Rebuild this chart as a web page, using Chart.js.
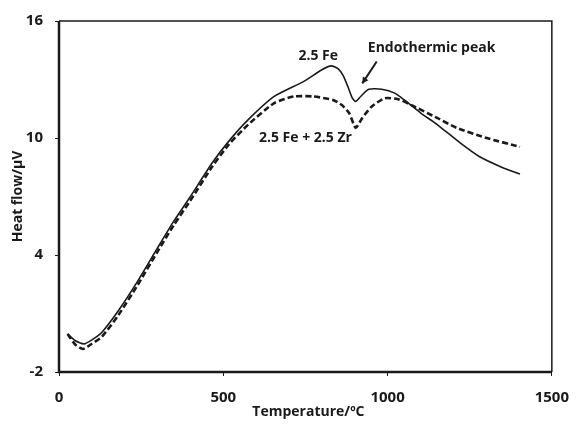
<!DOCTYPE html>
<html lang="en">
<head>
<meta charset="UTF-8">
<title>Heat flow</title>
<script src="https://cdn.jsdelivr.net/npm/chart.js"></script>
<style>
    body { margin: 0; background: #fff; }
    #chart { display: block; }
</style>
</head>
<body>
<canvas id="chart" width="582" height="425"></canvas>
<script>
// 2.5 Fe (solid)
const feTemp = [26, 50, 76, 100, 130, 180, 239, 299, 348, 398, 467, 517, 576, 655, 744, 800, 829, 850, 865, 880, 893, 903, 918, 943, 982, 1022, 1051, 1101, 1151, 1220, 1279, 1349, 1403];
const feFlow = [-0.05, -0.4, -0.56, -0.35, 0.03, 1.13, 2.65, 4.34, 5.7, 6.95, 8.74, 9.84, 10.94, 12.13, 12.89, 13.5, 13.7, 13.55, 13.2, 12.6, 12.04, 11.87, 12.13, 12.5, 12.5, 12.3, 11.95, 11.28, 10.69, 9.76, 9.05, 8.49, 8.15];

// 2.5 Fe + 2.5 Zr (dashed)
const zrTemp = [26, 50, 73, 100, 130, 180, 239, 299, 348, 398, 467, 517, 576, 655, 715, 774, 834, 860, 883, 903, 923, 952, 992, 1032, 1071, 1151, 1210, 1299, 1403];
const zrFlow = [-0.05, -0.6, -0.82, -0.55, -0.2, 0.9, 2.45, 4.15, 5.5, 6.75, 8.55, 9.67, 10.69, 11.79, 12.13, 12.13, 11.95, 11.7, 11.28, 10.52, 11.03, 11.62, 12.04, 11.99, 11.7, 11.03, 10.52, 10.01, 9.55];

const xTicks = [0, 500, 1000, 1500];
const yTicks = [-2, 4, 10, 16];

const xTitle = 'Temperature/\u00BAC';
const yTitle = 'Heat flow/\u00B5V';

// annotations in data units
const labels = [
    { text: '2.5 Fe', x: 789, y: 14.22 },
    { text: 'Endothermic peak', x: 1134, y: 14.63 },
    { text: '2.5 Fe + 2.5 Zr', x: 750, y: 10.0 }
];
const arrowFrom = { x: 967, y: 13.92 };
const arrowTo = { x: 923, y: 12.8 };

const INK = '#1a1a1a';
const FONT = '"Open Sans", sans-serif';

function toPoints(xs, ys) {
    return xs.map((x, i) => ({ x: x, y: ys[i] }));
}

// frame, titles and notes
const decor = {
    id: 'decor',
    afterDraw(chart) {
        const ctx = chart.ctx;
        const a = chart.chartArea;
        const sx = chart.scales.x, sy = chart.scales.y;
        ctx.save();
        ctx.strokeStyle = INK;
        // top and right border (thin)
        ctx.lineWidth = 1.5;
        ctx.beginPath();
        ctx.moveTo(a.left, a.top);
        ctx.lineTo(a.right, a.top);
        ctx.lineTo(a.right, a.bottom);
        ctx.stroke();
        // left and bottom border (thick)
        ctx.lineWidth = 2.5;
        ctx.beginPath();
        ctx.moveTo(a.left, a.top);
        ctx.lineTo(a.left, a.bottom);
        ctx.lineTo(a.right, a.bottom);
        ctx.stroke();

        ctx.fillStyle = INK;
        ctx.font = 'bold 14px ' + FONT;
        ctx.textAlign = 'center';
        ctx.textBaseline = 'middle';
        labels.forEach(l => {
            ctx.fillText(l.text, sx.getPixelForValue(l.x), sy.getPixelForValue(l.y));
        });

        // arrow
        const x1 = sx.getPixelForValue(arrowFrom.x), y1 = sy.getPixelForValue(arrowFrom.y);
        const x2 = sx.getPixelForValue(arrowTo.x), y2 = sy.getPixelForValue(arrowTo.y);
        const ang = Math.atan2(y2 - y1, x2 - x1);
        ctx.lineWidth = 2;
        ctx.beginPath();
        ctx.moveTo(x1, y1);
        ctx.lineTo(x2, y2);
        ctx.stroke();
        ctx.beginPath();
        ctx.moveTo(x2, y2);
        ctx.lineTo(x2 - 7 * Math.cos(ang - 0.5), y2 - 7 * Math.sin(ang - 0.5));
        ctx.lineTo(x2 - 7 * Math.cos(ang + 0.5), y2 - 7 * Math.sin(ang + 0.5));
        ctx.closePath();
        ctx.fill();

        // axis titles
        ctx.font = 'bold 14px ' + FONT;
        ctx.fillText(xTitle, (a.left + a.right) / 2 + 3, 412);
        ctx.translate(18, (a.top + a.bottom) / 2);
        ctx.rotate(-Math.PI / 2);
        ctx.fillText(yTitle, 0, 0);
        ctx.restore();
    }
};

const ctx = document.getElementById('chart').getContext('2d');
new Chart(ctx, {
    type: 'line',
    data: {
        datasets: [{
            label: '2.5 Fe',
            data: toPoints(feTemp, feFlow),
            borderColor: INK,
            borderWidth: 1.6,
            pointRadius: 0,
            tension: 0.2,
            fill: false
        }, {
            label: '2.5 Fe + 2.5 Zr',
            data: toPoints(zrTemp, zrFlow),
            borderColor: INK,
            borderWidth: 2.6,
            borderDash: [6, 3],
            pointRadius: 0,
            tension: 0.2,
            fill: false
        }]
    },
    options: {
        responsive: false,
        animation: false,
        layout: { padding: { left: 0, top: 17, right: 18, bottom: 0 } },
        plugins: {
            legend: { display: false },
            tooltip: { enabled: false }
        },
        scales: {
            x: {
                type: 'linear',
                min: 0,
                max: 1500,
                afterBuildTicks: s => { s.ticks = xTicks.map(v => ({ value: v })); },
                afterFit: s => { s.height = 53; },
                border: { display: false },
                grid: { drawOnChartArea: false, drawTicks: true, tickLength: 4, color: INK },
                ticks: {
                    padding: 13, color: INK,
                    font: { family: FONT, size: 15, weight: 'bold' },
                    callback: v => String(v)
                }
            },
            y: {
                type: 'linear',
                min: -2,
                max: 16,
                afterBuildTicks: s => { s.ticks = yTicks.map(v => ({ value: v })); },
                afterFit: s => { s.width = 59; },
                border: { display: false },
                grid: { drawOnChartArea: false, drawTicks: true, tickLength: 4, color: INK },
                ticks: {
                    padding: 12, color: INK,
                    font: { family: FONT, size: 15, weight: 'bold' },
                    callback: v => String(v)
                }
            }
        }
    },
    plugins: [decor]
});
</script>
</body>
</html>
